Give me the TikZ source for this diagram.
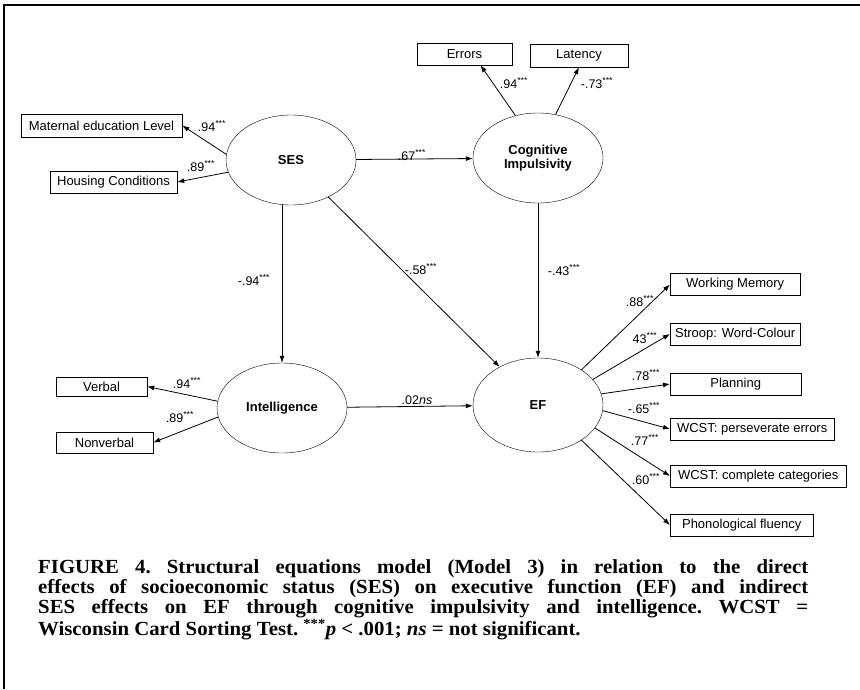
\documentclass[tikz,border=0pt]{standalone}
\usepackage{fontspec}
\setmainfont{Liberation Serif}
\setsansfont{Liberation Sans}
\newfontfamily\capfont[FakeStretch=1.04]{Liberation Serif}
\usetikzlibrary{shapes.geometric,arrows.meta}

\tikzset{
    latent/.style={draw, ellipse, inner sep=0pt, minimum width=130pt, minimum height=90pt,
        align=center, font=\sffamily\bfseries\fontsize{13}{14.5}\selectfont},
    obs/.style={draw, rectangle, inner sep=0pt, minimum height=22pt,
        font=\sffamily\fontsize{13}{14}\selectfont},
    coef/.style={inner sep=0pt, font=\sffamily\fontsize{12.5}{13}\selectfont},
    arr/.style={-{Latex[length=7pt,width=5pt]}, line width=0.8pt}
}
\newcommand{\sig}{\textsuperscript{***}}

\begin{document}
\begin{tikzpicture}[x=1pt,y=-1pt]
    \useasboundingbox (0,0) rectangle (860,689);
    \draw[line width=2.5pt] (4,689) -- (4,5) -- (860,5);

    % latent variables
    \node[latent] (ses) at (291,160) {SES};
    \node[latent] (ci) at (538,158) {Cognitive\\Impulsivity};
    \node[latent] (int) at (282,408) {Intelligence};
    \node[latent, minimum height=94pt] (ef) at (538,405) {EF};

    % indicators
    \node[obs, minimum width=161pt, minimum height=23pt] (mat) at (101.5,125.5) {Maternal education Level};
    \node[obs, minimum width=127pt] (hous) at (113.5,182) {Housing Conditions};
    \node[obs, minimum width=95pt] (err) at (464.5,54) {Errors};
    \node[obs, minimum width=98pt, minimum height=23pt] (lat) at (579,55.5) {Latency};
    \node[obs, minimum width=91pt, minimum height=19pt] (verb) at (101.5,386.5) {Verbal};
    \node[obs, minimum width=97pt, minimum height=21pt] (nonv) at (104.5,442.5) {Nonverbal};
    \foreach \n/\w/\y/\t in {wm/130/284.5/Working Memory, str/130/334/Stroop: Word-Colour,
        plan/131/384/Planning, wp/164/429/WCST: perseverate errors,
        wc/176/476/WCST: complete categories, pho/143/525/Phonological fluency}
        {\node[obs, minimum width=\w pt, anchor=west] (\n) at (670,\y) {\t};}

    % paths
    \draw[arr] (ses.175) -- (mat.east);
    \draw[arr] (ses.191) -- (hous.east);
    \draw[arr] (ci.118) -- (err.-35);
    \draw[arr] (ci.68) -- (lat.south);
    \draw[arr] (int.174) -- (verb.east);
    \draw[arr] (int.188) -- (nonv.east);
    \draw[arr] (ses) -- (ci);
    \draw[arr] (int.north |- ses.south) -- (int.north);
    \draw[arr] (ses) -- (ef);
    \draw[arr] (ci) -- (ef);
    \draw[arr] (int) -- (ef);
    \foreach \n/\a in {wm/39, str/25, plan/10, wp/-5, wc/-22, pho/-39}
        {\draw[arr] (ef.\a) -- (\n.west);}

    % coefficients
    \node[coef] (c1) at (212,126) {.94\sig};
    \node[coef] (c2) at (201,166) {.89\sig};
    \node[coef] (c3) at (412,155) {.67\sig};
    \node[coef] (c4) at (514,83) {.94\sig};
    \node[coef] (c5) at (597,83) {-.73\sig};
    \node[coef] (c6) at (254,280) {-.94\sig};
    \node[coef] (c7) at (421,269) {-.58\sig};
    \node[coef] (c8) at (564,270) {-.43\sig};
    \node[coef] (c9) at (417,400) {.02\textit{ns}};
    \node[coef] (c10) at (187,383) {.94\sig};
    \node[coef] (c11) at (180,417) {.89\sig};
    \foreach \v/\x/\y [count=\i] in {.88/640/301, 43/645/338, .78/646/375,
        -.65/644/408, .77/645/440, .60/646/479}
        {\node[coef] (e\i) at (\x,\y) {\v\sig};}

    % caption
    \node[anchor=north west, inner sep=0pt, text width=770pt, align=justify,
        font=\capfont\bfseries\fontsize{20}{20.2}\selectfont\frenchspacing] (cap) at (38,559)
        {FIGURE 4. Structural equations model (Model 3) in relation to the direct\linebreak
        effects of socioeconomic status (SES) on executive function (EF) and indirect\linebreak
        SES effects on EF through cognitive impulsivity and intelligence. WCST =\linebreak
        Wisconsin Card Sorting Test. \textsuperscript{***}\textit{p} < .001; \textit{ns} = not significant.};
\end{tikzpicture}
\end{document}
